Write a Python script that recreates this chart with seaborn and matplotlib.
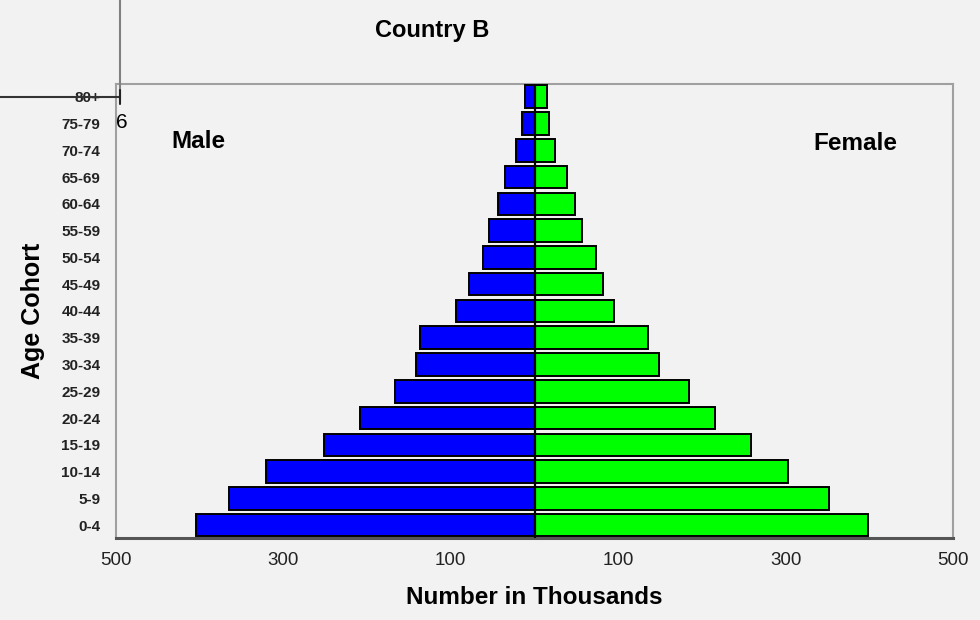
import matplotlib
matplotlib.use("Agg")
import matplotlib.pyplot as plt
from matplotlib.lines import Line2D
import seaborn as sns
import pandas as pd

# ---- data (thousands) ----
age_groups = ["80+", "75-79", "70-74", "65-69", "60-64", "55-59", "50-54", "45-49",
              "40-44", "35-39", "30-34", "25-29", "20-24", "15-19", "10-14", "5-9", "0-4"]
male = [11, 15, 22, 35, 44, 54, 62, 78, 94, 137, 141, 167, 208, 251, 321, 365, 404]
female = [15, 17, 25, 39, 48, 57, 73, 82, 95, 136, 148, 185, 216, 259, 303, 352, 398]
xticks = [-500, -300, -100, 100, 300, 500]
xtick_labels = ["500", "300", "100", "100", "300", "500"]

sns.set_theme(style="white")
plt.rcParams["font.family"] = ["Liberation Sans", "DejaVu Sans"]
plt.rcParams["text.color"] = "black"
plt.rcParams["axes.labelcolor"] = "black"

df = pd.DataFrame({
    "age": age_groups * 2,
    "value": [-m for m in male] + female,
    "sex": ["Male"] * len(age_groups) + ["Female"] * len(age_groups),
})

bg = "#f2f2f2"
fig = plt.figure(figsize=(9.8, 6.2), dpi=100, facecolor=bg)
ax = fig.add_axes([0.1181, 0.1323, 0.8547, 0.7322])
ax.set_facecolor(bg)

sns.barplot(data=df, x="value", y="age", hue="sex", order=age_groups,
            palette={"Male": "#0000ff", "Female": "#00ff00"}, dodge=False,
            saturation=1, width=0.84, edgecolor="black", linewidth=1.4,
            legend=False, errorbar=None, ax=ax, zorder=3)

ax.axvline(0, color="black", lw=1.6, zorder=4)
ax.set_xlim(-500, 500)
ax.set_ylim(16.478, -0.474)

ax.set_xticks(xticks)
ax.set_xticklabels(xtick_labels, fontsize=13.5)
ax.tick_params(axis="x", direction="in", length=6, width=1.5, color="#222222",
               pad=10, labelcolor="#222222")
ax.tick_params(axis="y", length=0, pad=11, labelsize=11, labelcolor="#222222")
for lab in ax.get_yticklabels():
    lab.set_fontweight("bold")

for side in ["left", "top", "right"]:
    ax.spines[side].set_color("#a0a0a0")
    ax.spines[side].set_linewidth(1.5)
ax.spines["bottom"].set_color("#555555")
ax.spines["bottom"].set_linewidth(2.2)

ax.set_xlabel("Number in Thousands", fontsize=17.5, fontweight="bold", labelpad=12)
ax.set_ylabel("Age Cohort", fontsize=18, fontweight="bold", labelpad=12)

fig.text(432 / 980, 1 - 30 / 620, "Country B", ha="center", va="center",
         fontsize=17, fontweight="bold")
fig.text(198 / 980, 1 - 142 / 620, "Male", ha="center", va="center",
         fontsize=17.5, fontweight="bold")
fig.text(855 / 980, 1 - 143 / 620, "Female", ha="center", va="center",
         fontsize=17.5, fontweight="bold")
fig.text(116 / 980, 1 - 122 / 620, "6", ha="left", va="center", fontsize=15)

# stray guide lines in the original picture
fig.add_artist(Line2D([120 / 980, 120 / 980], [1.0, 1 - 100 / 620],
                      transform=fig.transFigure, color="#808080", lw=1.5))
fig.add_artist(Line2D([0, 120 / 980], [1 - 97 / 620, 1 - 97 / 620],
                      transform=fig.transFigure, color="#333333", lw=1.5))
fig.add_artist(Line2D([120 / 980, 120 / 980], [1 - 90 / 620, 1 - 104 / 620],
                      transform=fig.transFigure, color="#222222", lw=1.5))

fig.savefig("out.png", dpi=100, facecolor=bg)
